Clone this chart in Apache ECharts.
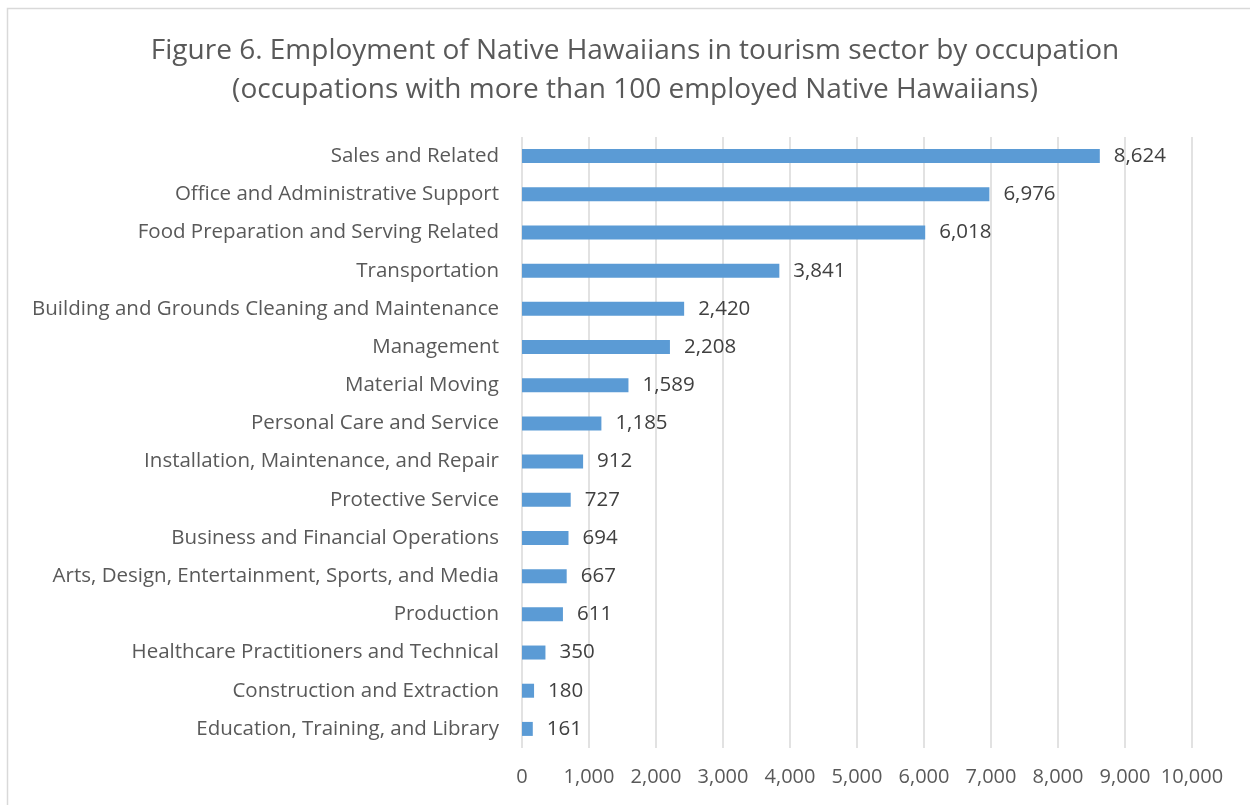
<!DOCTYPE html>
<html>
<head>
<meta charset="utf-8">
<script src="https://cdn.jsdelivr.net/npm/echarts@6/dist/echarts.min.js"></script>
<style>html,body{margin:0;padding:0;background:#fff;}#chart{width:1250px;height:805px;}</style>
</head>
<body>
<div id="chart"></div>
<script>
const categories = [
  "Sales and Related",
  "Office and Administrative Support",
  "Food Preparation and Serving Related",
  "Transportation",
  "Building and Grounds Cleaning and Maintenance",
  "Management",
  "Material Moving",
  "Personal Care and Service",
  "Installation, Maintenance, and Repair",
  "Protective Service",
  "Business and Financial Operations",
  "Arts, Design, Entertainment, Sports, and Media",
  "Production",
  "Healthcare Practitioners and Technical",
  "Construction and Extraction",
  "Education, Training, and Library"
];
const values = [8624, 6976, 6018, 3841, 2420, 2208, 1589, 1185, 912, 727, 694, 667, 611, 350, 180, 161];
const titleLines = [
  "Figure 6. Employment of Native Hawaiians in tourism sector by occupation",
  "(occupations with more than 100 employed Native Hawaiians)"
];

const chart = echarts.init(document.getElementById('chart'));
const fmt = v => v.toLocaleString('en-US');
const font = '"Open Sans", sans-serif';
chart.setOption({
  backgroundColor: '#fff',
  animation: false,
  title: {
    text: titleLines.join('\n'),
    left: 630, textAlign: 'center', top: 27,
    textStyle: { fontFamily: font, fontSize: 28, fontWeight: 'normal', color: '#595959', lineHeight: 39 }
  },
  graphic: [{
    type: 'rect', shape: { x: 7.5, y: 8.5, width: 1300, height: 900 },
    style: { fill: 'none', stroke: '#d9d9d9', lineWidth: 1.5 }, silent: true
  }],
  grid: { left: 522, right: 58, top: 137, bottom: 57 },
  xAxis: {
    type: 'value', min: 0, max: 10000, interval: 1000,
    axisLine: { show: false }, axisTick: { show: false },
    splitLine: { lineStyle: { color: '#d9d9d9', width: 1.5 } },
    axisLabel: { formatter: fmt, fontFamily: font, fontSize: 20, color: '#595959', margin: 19 }
  },
  yAxis: {
    type: 'category', data: categories, inverse: true,
    axisLine: { show: false }, axisTick: { show: false },
    axisLabel: { fontFamily: font, fontSize: 20.5, color: '#595959', margin: 23 }
  },
  series: [{
    type: 'bar', data: values, barWidth: 14,
    itemStyle: { color: '#5b9bd5' },
    label: { show: true, position: 'right', distance: 14, formatter: p => fmt(p.value),
      fontFamily: font, fontSize: 20.5, color: '#404040' }
  }]
});
</script>
</body>
</html>
